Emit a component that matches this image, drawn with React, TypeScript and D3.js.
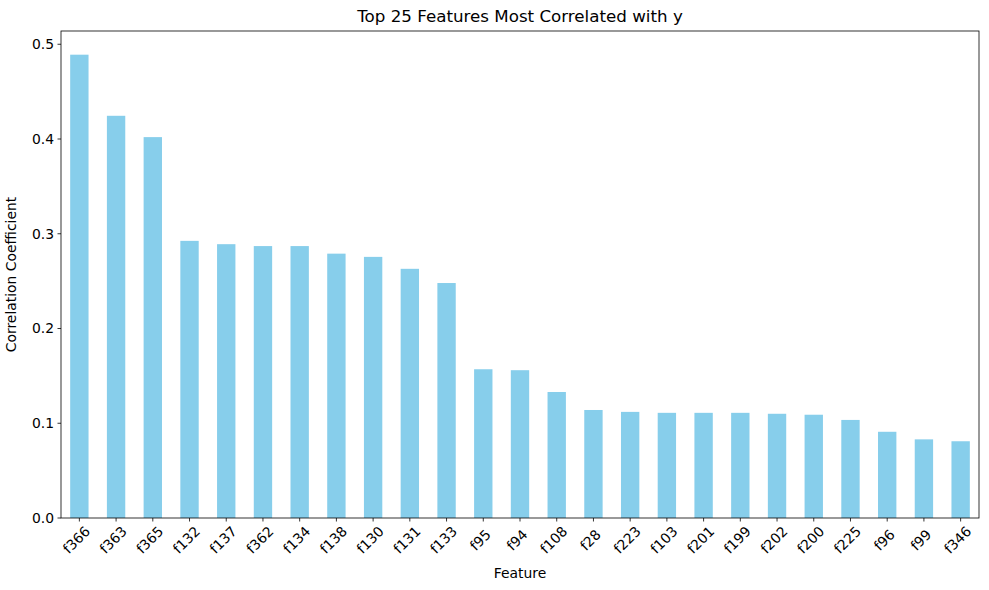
import * as d3 from "d3"

const features = ["f366","f363","f365","f132","f137","f362","f134","f138","f130","f131","f133","f95","f94","f108","f28","f223","f103","f201","f199","f202","f200","f225","f96","f99","f346"]
const values = [0.489,0.4245,0.402,0.2925,0.289,0.287,0.287,0.279,0.2756,0.263,0.248,0.157,0.156,0.133,0.114,0.112,0.111,0.111,0.111,0.110,0.109,0.1035,0.091,0.083,0.081]
const yTicks = [0, 0.1, 0.2, 0.3, 0.4, 0.5]

export default function App() {
  const width = 989, height = 590
  const m = { left: 61, right: 10, top: 31, bottom: 72 }
  const iw = width - m.left - m.right
  const ih = height - m.top - m.bottom
  const x = d3.scaleBand().domain(features).range([0, iw]).paddingInner(0.5).paddingOuter(0.25)
  const y = d3.scaleLinear().domain([0, 0.514]).range([ih, 0])
  const font = "DejaVu Sans, sans-serif"
  return (
    <svg width={width} height={height} style={{ position: "absolute", left: 0, top: 0, background: "#fff" }} fontFamily={font}>
      <text x={m.left + iw / 2} y={22} textAnchor="middle" fontSize={16.7}>Top 25 Features Most Correlated with y</text>
      <g transform={`translate(${m.left},${m.top})`}>
        {features.map((f, i) => (
          <rect key={f} x={x(f)!} y={y(values[i])} width={x.bandwidth()} height={ih - y(values[i])} fill="#87ceeb" />
        ))}
        <rect x={0} y={0} width={iw} height={ih} fill="none" stroke="#000" strokeWidth={0.8} />
        {yTicks.map(t => (
          <g key={t} transform={`translate(0,${y(t)})`}>
            <line x1={-3.5} x2={0} stroke="#000" strokeWidth={0.8} />
            <text x={-7} dy="0.35em" textAnchor="end" fontSize={13.9}>{t.toFixed(1)}</text>
          </g>
        ))}
        {features.map(f => {
          const cx = x(f)! + x.bandwidth() / 2
          return (
            <g key={f} transform={`translate(${cx},${ih})`}>
              <line y1={0} y2={3.5} stroke="#000" strokeWidth={0.8} />
              <text transform="translate(-3,22) rotate(-45)" textAnchor="middle" dy="0.35em" fontSize={13.9}>{f}</text>
            </g>
          )
        })}
        <text x={iw / 2} y={ih + 60} textAnchor="middle" fontSize={13.9}>Feature</text>
        <text transform={`translate(-45,${ih / 2}) rotate(-90)`} textAnchor="middle" fontSize={13.9}>Correlation Coefficient</text>
      </g>
    </svg>
  )
}
